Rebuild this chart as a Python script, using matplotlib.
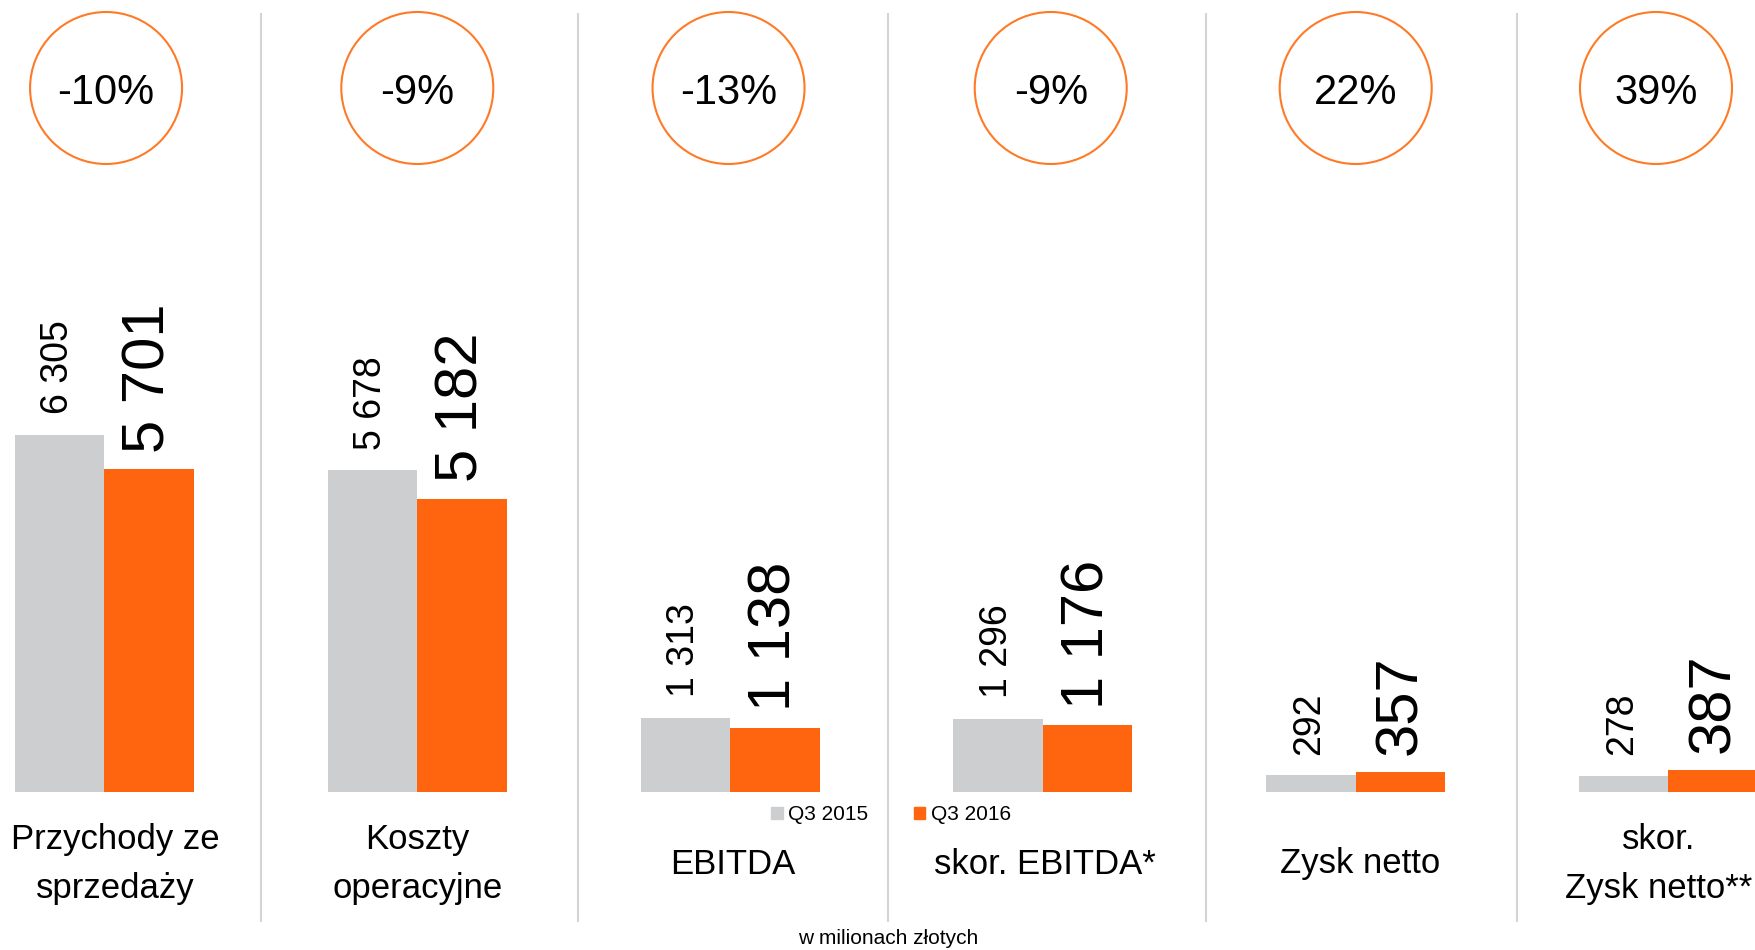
import matplotlib
matplotlib.use("Agg")
import matplotlib.pyplot as plt
import numpy as np
from matplotlib import font_manager
from matplotlib.patches import Patch

# data
categories = ["Przychody ze\nsprzedaży", "Koszty\noperacyjne", "EBITDA",
              "skor. EBITDA*", "Zysk netto", "skor.\nZysk netto**"]
q3_2015 = [6305, 5678, 1313, 1296, 292, 278]
q3_2016 = [5701, 5182, 1138, 1176, 357, 387]
changes = ["-10%", "-9%", "-13%", "-9%", "22%", "39%"]
series_names = ["Q3 2015", "Q3 2016"]
unit_note = "w milionach złotych"

# layout (pixels of the 1756x950 canvas)
W, H, DPI = 1756, 950, 100
GRAY = "#CDCED0"
ORANGE = "#FF640F"
RING = "#FF7A26"
SEP = "#D4D4D4"
group_px = 312.8
first_center_px = 104.5
baseline_px = 792
units_per_px = 17.66
bar_w = 89.5 / group_px
circle_dx = [0.005, 0.0, -0.005, 0.025, 0.0, -0.04]
label_dx = [0.035, 0.0, 0.01, 0.005, 0.015, -0.03]
sep_x = [0.5, 1.515, 2.505, 3.52, 4.515]

plt.rcParams["font.family"] = ["Liberation Sans", "DejaVu Sans"]

names = {f.name for f in font_manager.fontManager.ttflist}
if "Liberation Sans Narrow" in names:
    label_font, label_size, label_ls = "Liberation Sans Narrow", 29, 1.4
else:
    label_font, label_size, label_ls = "Liberation Sans", 25, 1.65


def fmt(v):
    return f"{v:,}".replace(",", " ")


fig = plt.figure(figsize=(W / DPI, H / DPI), dpi=DPI)
ax = fig.add_axes([0, 0, 1, 1])
ax.axis("off")

x = np.arange(len(categories))
bars15 = ax.bar(x - bar_w / 2, q3_2015, bar_w, color=GRAY)
bars16 = ax.bar(x + bar_w / 2, q3_2016, bar_w, color=ORANGE)

for rect, v in zip(bars15, q3_2015):
    ax.annotate(fmt(v), (rect.get_x() + rect.get_width() / 2, rect.get_height()),
                xytext=(-1, 15), textcoords="offset points", rotation=90,
                ha="center", va="bottom", fontsize=27)
for rect, v in zip(bars16, q3_2016):
    ax.annotate(fmt(v), (rect.get_x() + rect.get_width() / 2, rect.get_height()),
                xytext=(0, 12), textcoords="offset points", rotation=90,
                ha="center", va="bottom", fontsize=43)

xt = ax.get_xaxis_transform()
circle_y = 1 - 88 / H
cx = x + np.array(circle_dx)
ax.scatter(cx, [circle_y] * len(cx), s=(152 * 72 / DPI) ** 2, facecolors="none",
           edgecolors=RING, linewidths=1.5, transform=xt, clip_on=False)
for xi, c in zip(cx, changes):
    ax.text(xi, circle_y, c, transform=xt, ha="center", va="center_baseline", fontsize=30)

ax.vlines(sep_x, 1 - 922 / H, 1 - 13 / H, transform=xt, colors=SEP, linewidth=1.5)

for xi, cat in zip(x + np.array(label_dx), categories):
    ax.text(xi, 1 - 864 / H, cat, transform=xt, ha="center", va="center",
            fontsize=label_size, family=label_font, linespacing=label_ls)

ax.set_xlim(-first_center_px / group_px, (W - first_center_px) / group_px)
ax.set_ylim(-(H - baseline_px) * units_per_px, baseline_px * units_per_px)

handles = [Patch(color=GRAY), Patch(color=ORANGE)]
fig.legend(handles, series_names, loc="center", bbox_to_anchor=(891 / W, 1 - 815 / H),
           ncol=2, frameon=False, fontsize=15, handlelength=0.55, handleheight=0.55,
           handletextpad=0.25, columnspacing=2.2, borderpad=0)

fig.text(888 / W, 1 - 938 / H, unit_note, ha="center", va="center", fontsize=15)

fig.savefig("out.png", dpi=DPI)
